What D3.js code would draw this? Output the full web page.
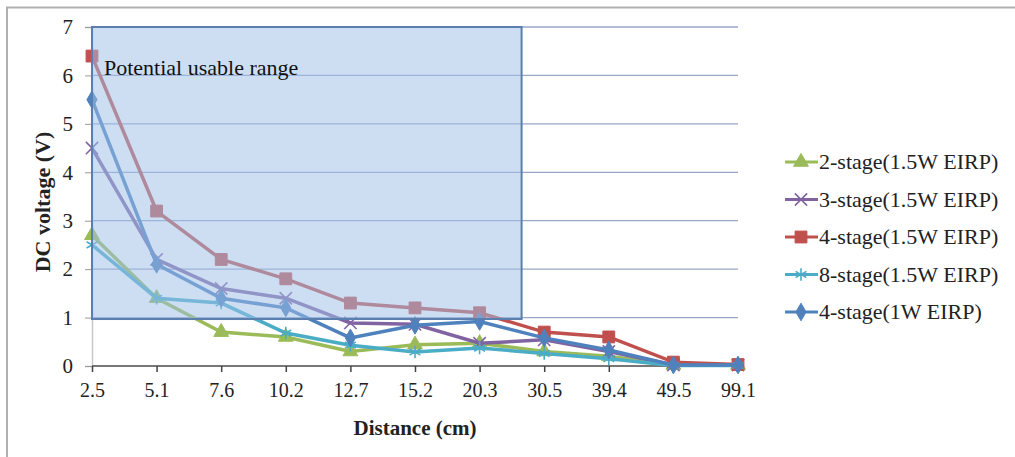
<!DOCTYPE html>
<html>
<head>
<meta charset="utf-8">
<script src="https://cdn.jsdelivr.net/npm/d3@7"></script>
<style>
  body { margin: 0; background: #fff; }
  svg text { font-family: "Liberation Serif", "Times New Roman", serif; }
</style>
</head>
<body>
<div id="chart-area"></div>
<script>
var distances = ["2.5", "5.1", "7.6", "10.2", "12.7", "15.2", "20.3", "30.5", "39.4", "49.5", "99.1"];
var yTicks = [0, 1, 2, 3, 4, 5, 6, 7];

var stage2 = [2.7, 1.4, 0.7, 0.6, 0.3, 0.44, 0.47, 0.3, 0.2, 0.02, 0.02];
var stage3 = [4.5, 2.2, 1.6, 1.4, 0.89, 0.86, 0.47, 0.54, 0.3, 0.02, 0.02];
var stage4 = [6.4, 3.2, 2.2, 1.8, 1.3, 1.2, 1.1, 0.7, 0.6, 0.08, 0.03];
var stage8 = [2.5, 1.4, 1.3, 0.68, 0.43, 0.29, 0.37, 0.26, 0.15, 0.01, 0.01];
var stage4w1 = [5.5, 2.1, 1.4, 1.2, 0.58, 0.84, 0.92, 0.58, 0.33, 0.02, 0.02];

var series = [
  { name: "2-stage(1.5W EIRP)", values: stage2, color: "#9bbb59", marker: "triangle" },
  { name: "3-stage(1.5W EIRP)", values: stage3, color: "#8064a2", marker: "x" },
  { name: "4-stage(1.5W EIRP)", values: stage4, color: "#c0504d", marker: "square" },
  { name: "8-stage(1.5W EIRP)", values: stage8, color: "#4bacc6", marker: "star" },
  { name: "4-stage(1W EIRP)", values: stage4w1, color: "#4f81bd", marker: "diamond" }
];

// potential usable range box (category index / voltage)
var rangeBox = { x0: 0, x1: 6.65, y0: 0.97, y1: 7 };

var width = 1015, height = 457;
var svg = d3.select("#chart-area")
  .append("svg")
  .attr("width", width)
  .attr("height", height);

// outer frame
svg.append("path")
  .attr("d", "M7,457 L7,7.5 L1015,7.5")
  .attr("fill", "none")
  .attr("stroke", "#b0b0b0")
  .attr("stroke-width", 2);

var x = d3.scalePoint()
  .domain(d3.range(distances.length))
  .range([92, 738]);

var y = d3.scaleLinear()
  .domain([0, 7])
  .range([366, 27]);

// gridlines
svg.append("g")
  .selectAll("line")
  .data(yTicks.filter(function(d) { return d > 0; }))
  .enter()
  .append("line")
  .attr("x1", 92)
  .attr("x2", 738)
  .attr("y1", function(d) { return y(d); })
  .attr("y2", function(d) { return y(d); })
  .attr("stroke", "#9aa6c8")
  .attr("stroke-width", 1.3);

// y axis
var yAxis = svg.append("g")
  .attr("transform", "translate(92,0)")
  .call(d3.axisLeft(y).tickValues(yTicks).tickFormat(d3.format("d")).tickSize(7).tickPadding(12));
yAxis.select(".domain").attr("stroke", "#c8c8c8").attr("stroke-width", 1.5);
yAxis.selectAll(".tick line").attr("stroke", "#999");
yAxis.selectAll("text")
  .style("font-size", "21px")
  .attr("fill", "#222");

// x axis
var xAxis = svg.append("g")
  .attr("transform", "translate(0,366)")
  .call(d3.axisBottom(x).tickFormat(function(i) { return distances[i]; }).tickSize(6).tickPadding(11));
xAxis.select(".domain").attr("stroke", "#777").attr("stroke-width", 2)
  .attr("d", "M92,0H738");
xAxis.selectAll(".tick line").attr("stroke", "#444").attr("stroke-width", 1.5);
xAxis.selectAll("text")
  .style("font-size", "20px")
  .attr("fill", "#222");

// lines
var line = d3.line()
  .x(function(d, i) { return x(i); })
  .y(function(d) { return y(d); });

var symbolFor = {
  triangle: d3.symbol().type(d3.symbolTriangle).size(95),
  square: d3.symbol().type(d3.symbolSquare).size(140),
  diamond: d3.symbol().type(d3.symbolDiamond).size(90),
  x: d3.symbol().type(d3.symbolX).size(100),
  star: d3.symbol().type(d3.symbolAsterisk).size(110)
};

function drawMarker(g, s, cx, cy) {
  var open = s.marker === "x" || s.marker === "star";
  g.append("path")
    .attr("d", symbolFor[s.marker]())
    .attr("transform", "translate(" + cx + "," + cy + ")")
    .attr("fill", open ? "none" : s.color)
    .attr("stroke", s.color)
    .attr("stroke-width", open ? 1.6 : 1);
}

series.forEach(function(s) {
  var g = svg.append("g");
  g.append("path")
    .datum(s.values)
    .attr("d", line)
    .attr("fill", "none")
    .attr("stroke", s.color)
    .attr("stroke-width", 3.5);
  s.values.forEach(function(v, i) {
    drawMarker(g, s, x(i), y(v));
  });
});

// range box on top
var step = x(1) - x(0);
svg.append("rect")
  .attr("x", x(rangeBox.x0))
  .attr("y", y(rangeBox.y1))
  .attr("width", rangeBox.x1 * step)
  .attr("height", y(rangeBox.y0) - y(rangeBox.y1))
  .attr("fill", "rgb(160,192,232)")
  .attr("fill-opacity", 0.52)
  .attr("stroke", "#5a7fae")
  .attr("stroke-width", 2);

svg.append("text")
  .attr("x", 104)
  .attr("y", 75)
  .style("font-size", "22px")
  .attr("fill", "#111")
  .text("Potential usable range");

// axis titles
svg.append("text")
  .attr("transform", "translate(50,202) rotate(-90)")
  .attr("text-anchor", "middle")
  .style("font-size", "22px")
  .attr("font-weight", "bold")
  .attr("fill", "#222")
  .text("DC voltage (V)");

svg.append("text")
  .attr("x", 415)
  .attr("y", 435)
  .attr("text-anchor", "middle")
  .style("font-size", "21px")
  .attr("font-weight", "bold")
  .attr("fill", "#222")
  .text("Distance (cm)");

// legend
var legend = svg.append("g");
series.forEach(function(s, i) {
  var ly = 162 + i * 37.5;
  var lg = legend.append("g");
  lg.append("line")
    .attr("x1", 785).attr("x2", 818)
    .attr("y1", ly).attr("y2", ly)
    .attr("stroke", s.color)
    .attr("stroke-width", 3);
  drawMarker(lg, s, 801, ly);
  lg.append("text")
    .attr("x", 819)
    .attr("y", ly + 7)
    .style("font-size", "22px")
    .attr("fill", "#222")
    .text(s.name);
});
</script>
</body>
</html>
